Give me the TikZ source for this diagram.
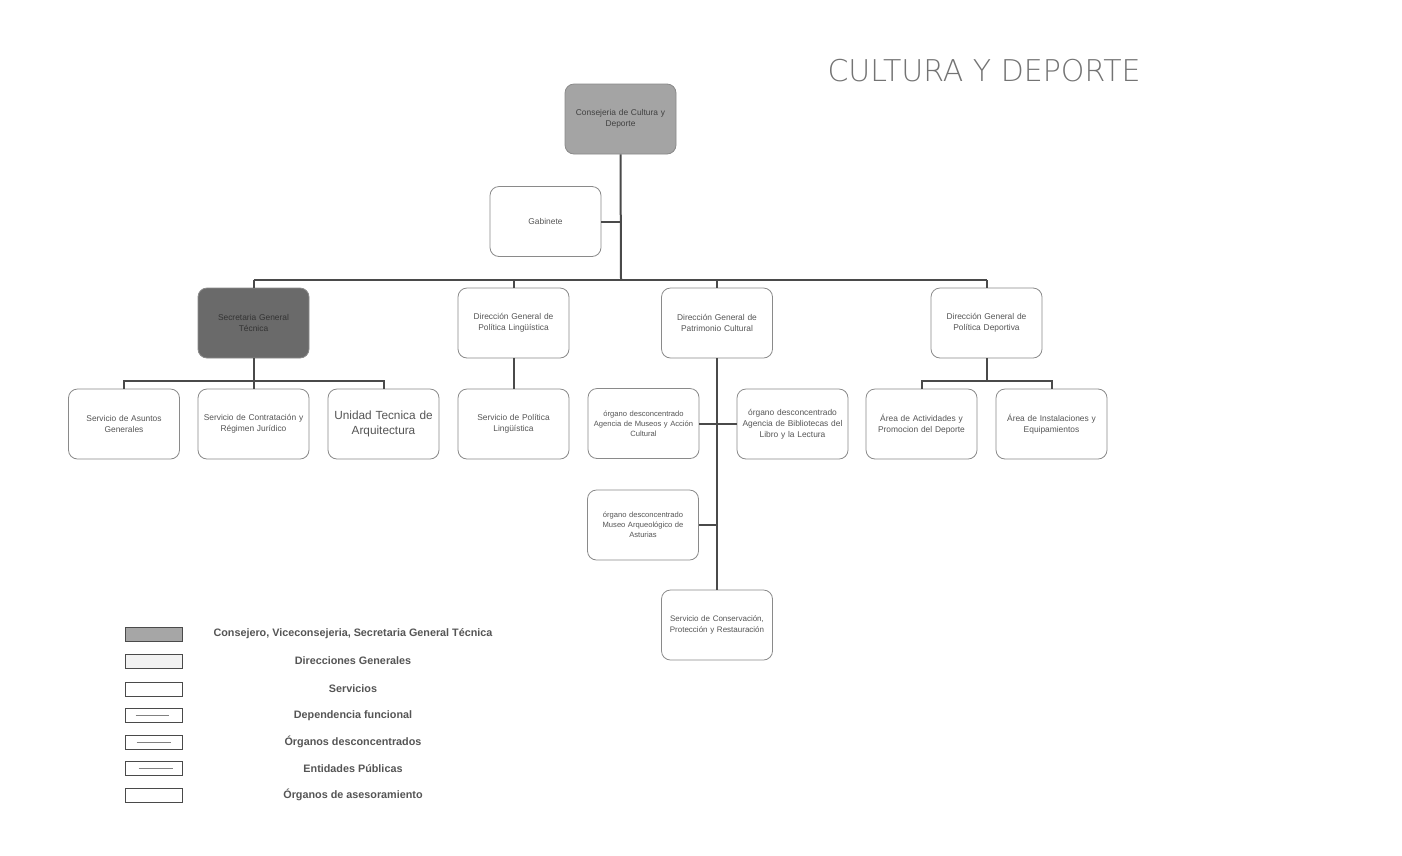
\documentclass[tikz,border=0pt]{standalone}
\usepackage{fontspec}
\setmainfont{Liberation Sans}
\newfontfamily\handfont{DejaVu Sans ExtraLight}
\definecolor{txt}{HTML}{555555}
\definecolor{bord}{HTML}{8A8A8A}
\definecolor{lin}{HTML}{4A4A4A}
\definecolor{dark}{HTML}{6A6A6A}
\definecolor{mid}{HTML}{A4A4A4}
\begin{document}
\begin{tikzpicture}[x=1pt,y=-1pt,
  box/.style={draw=bord,line width=0.8pt,rounded corners=9pt,minimum width=111pt,minimum height=70pt,
    align=center,text width=108pt,text=txt,font=\fontsize{8.4}{11}\selectfont,inner sep=0pt},
  conn/.style={draw=lin,line width=2pt},
  legbox/.style={draw=lin,line width=0.9pt,minimum width=57pt,minimum height=14pt,inner sep=0pt},
  leglab/.style={text=txt,font=\fontsize{10.8}{12}\selectfont\bfseries,anchor=center},
  legline/.style={draw=gray,line width=0.6pt}]
\useasboundingbox (0,0) rectangle (1402,855);
\fill[white] (0,0) rectangle (1402,855);
% title
\node[text=gray!90!black,font=\handfont\fontsize{30}{32}\selectfont] (title) at (984,71) {CULTURA Y DEPORTE};
% top
\node[box,fill=mid,text=black!75] (cons) at (620.5,119) {Consejeria de Cultura y\\Deporte};
\node[box] (gab) at (545.5,221.5) {Gabinete};
\coordinate (bus) at (621,280);
% level 2
\node[box,fill=dark,text=black!80] (sgt) at (253.5,323) {Secretaria General\\Técnica};
\node[box] (dgl) at (513.5,323) {Dirección General de\\Política Lingüística};
\node[box] (dgp) at (717,323) {Dirección General de\\Patrimonio Cultural};
\node[box] (dgd) at (986.5,323) {Dirección General de\\Política Deportiva};
% level 3
\node[box] (sag) at (124,424) {Servicio de Asuntos\\Generales};
\node[box] (scr) at (253.5,424) {Servicio de Contratación y\\Régimen Jurídico};
\node[box,font=\fontsize{11.8}{15}\selectfont] (uta) at (383.5,424) {Unidad Tecnica de\\Arquitectura};
\node[box] (spl) at (513.5,424) {Servicio de Política\\Lingüística};
\node[box,font=\fontsize{7.6}{10}\selectfont] (oam) at (643.5,423.5) {órgano desconcentrado\\Agencia de Museos y Acción\\Cultural};
\node[box] (oab) at (792.5,424) {órgano desconcentrado\\Agencia de Bibliotecas del\\Libro y la Lectura};
\node[box,font=\fontsize{7.6}{10}\selectfont] (oma) at (643,525) {órgano desconcentrado\\Museo Arqueológico de\\Asturias};
\node[box,font=\fontsize{8}{11}\selectfont] (scp) at (717,625) {Servicio de Conservación,\\Protección y Restauración};
\node[box] (aad) at (921.5,424) {Área de Actividades y\\Promocion del Deporte};
\node[box] (aie) at (1051.5,424) {Área de Instalaciones y\\Equipamientos};
% connectors
\draw[conn] (cons.south) -- (bus);
\draw[conn] (gab.east) -- (gab.east -| cons.south);
\draw[conn] (sgt.north |- bus) -- (dgd.north |- bus);
\draw[conn] (sgt.north) -- (sgt.north |- bus);
\draw[conn] (dgl.north) -- (dgl.north |- bus);
\draw[conn] (dgp.north) -- (dgp.north |- bus);
\draw[conn] (dgd.north) -- (dgd.north |- bus);
\coordinate (sbus) at (253.5,381);
\draw[conn] (sgt.south) -- (sbus);
\draw[conn] (sag.north) -- (sag.north |- sbus) -- (uta.north |- sbus) -- (uta.north);
\draw[conn] (scr.north) -- (sbus);
\draw[conn] (dgl.south) -- (spl.north);
\draw[conn] (dgp.south) -- (scp.north);
\draw[conn] (oam.east) -- (oam.east -| dgp.south);
\draw[conn] (oab.west) -- (oab.west -| dgp.south);
\draw[conn] (oma.east) -- (oma.east -| dgp.south);
\coordinate (dbus) at (986.5,381);
\draw[conn] (dgd.south) -- (dbus);
\draw[conn] (aad.north) -- (aad.north |- dbus) -- (aie.north |- dbus) -- (aie.north);
% legend
\node[legbox,fill=gray!70] (l1) at (153.5,634.5) {};
\node[legbox,fill=gray!10] (l2) at (153.5,661) {};
\node[legbox] (l3) at (153.5,689) {};
\node[legbox] (l4) at (153.5,715) {};
\node[legbox] (l5) at (153.5,742) {};
\node[legbox] (l6) at (153.5,768) {};
\node[legbox] (l7) at (153.5,795) {};
\draw[legline] ([xshift=11pt]l4.west) -- ([xshift=-13pt]l4.east);
\draw[legline] ([xshift=12pt]l5.west) -- ([xshift=-11pt]l5.east);
\draw[legline] ([xshift=14pt]l6.west) -- ([xshift=-9pt]l6.east);
\node[leglab] (t1) at (353,634) {Consejero, Viceconsejeria, Secretaria General Técnica};
\node[leglab] (t2) at (353,661) {Direcciones Generales};
\node[leglab] (t3) at (353,689) {Servicios};
\node[leglab] (t4) at (353,715.5) {Dependencia funcional};
\node[leglab] (t5) at (353,742) {Órganos desconcentrados};
\node[leglab] (t6) at (353,768.5) {Entidades Públicas};
\node[leglab] (t7) at (353,795) {Órganos de asesoramiento};
\end{tikzpicture}
\end{document}
